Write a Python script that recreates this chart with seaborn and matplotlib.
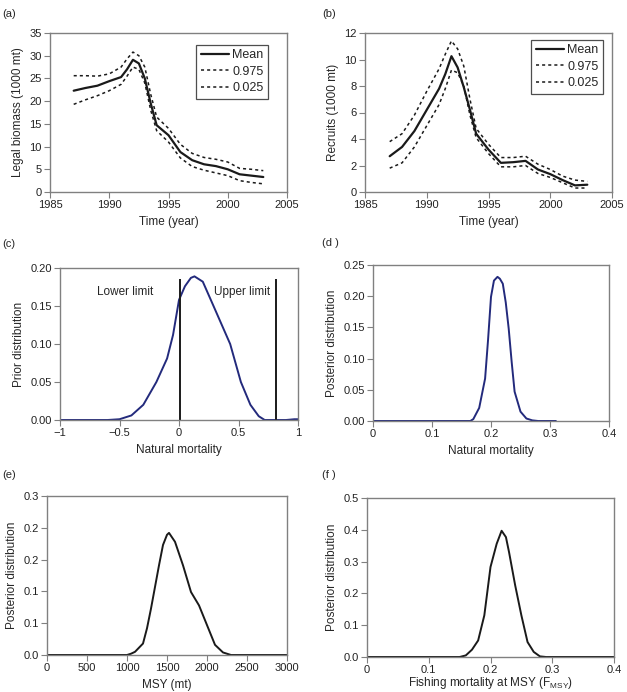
import numpy as np
import pandas as pd
import matplotlib
matplotlib.use("Agg")
import matplotlib.pyplot as plt
import seaborn as sns

# (a) legal biomass, (b) recruits
years = [1987, 1988, 1989, 1990, 1991, 1991.5, 1992, 1992.5, 1993, 1993.5, 1994, 1995,
         1996, 1997, 1998, 1999, 2000, 2001, 2002, 2003]
bio_mean = [22.3, 22.9, 23.4, 24.4, 25.3, 27.0, 29.1, 28.3, 25.0, 19.5, 14.7, 12.5,
            8.8, 7.0, 6.1, 5.7, 5.0, 3.9, 3.6, 3.3]
bio_hi = [25.6, 25.6, 25.5, 26.0, 27.5, 29.3, 30.8, 30.0, 27.5, 21.5, 16.5, 14.0,
          10.5, 8.5, 7.6, 7.2, 6.6, 5.2, 5.0, 4.7]
bio_lo = [19.3, 20.3, 21.2, 22.3, 23.7, 25.5, 27.5, 27.0, 24.0, 18.0, 13.5, 11.0,
          7.5, 5.6, 4.8, 4.2, 3.6, 2.5, 2.1, 1.8]
rec_mean = [2.7, 3.4, 4.6, 6.2, 7.8, 8.9, 10.25, 9.4, 7.9, 6.2, 4.4, 3.2,
            2.2, 2.25, 2.35, 1.7, 1.35, 0.9, 0.5, 0.55]
rec_hi = [3.8, 4.4, 5.8, 7.6, 9.3, 10.4, 11.4, 10.8, 9.5, 7.0, 4.8, 3.6,
          2.6, 2.6, 2.7, 2.1, 1.7, 1.2, 0.9, 0.8]
rec_lo = [1.8, 2.2, 3.4, 5.0, 6.6, 7.8, 9.2, 9.0, 8.0, 5.8, 4.1, 2.9,
          1.9, 1.9, 2.0, 1.4, 1.1, 0.7, 0.3, 0.3]

# (c) prior on natural mortality
prior_x = [-1.0, -0.6, -0.5, -0.4, -0.3, -0.19, -0.1, -0.05, 0.0, 0.05, 0.1,
           0.13, 0.2, 0.29, 0.43, 0.52, 0.6, 0.67, 0.72, 0.8, 0.9, 0.97, 1.0]
prior_y = [0.0, 0.0, 0.001, 0.006, 0.02, 0.05, 0.081, 0.112, 0.158, 0.176, 0.187,
           0.189, 0.182, 0.15, 0.10, 0.05, 0.02, 0.005, 0.0, 0.0, 0.0, 0.001, 0.001]
limits = [0.01, 0.815]

# (d) posterior natural mortality
post_m_x = [0.0, 0.1, 0.165, 0.17, 0.18, 0.19, 0.195, 0.2, 0.205, 0.211, 0.215,
            0.22, 0.225, 0.23, 0.235, 0.24, 0.25, 0.26, 0.27, 0.28, 0.31]
post_m_y = [0.0, 0.0, 0.0, 0.003, 0.021, 0.068, 0.13, 0.199, 0.225, 0.231, 0.228,
            0.22, 0.19, 0.148, 0.095, 0.047, 0.015, 0.004, 0.001, 0.0, 0.0]

# (e) posterior MSY
msy_x = [0, 500, 1000, 1050, 1100, 1200, 1250, 1300, 1400, 1450, 1500, 1525,
         1600, 1700, 1800, 1900, 2000, 2100, 2200, 2300, 2500, 3000]
msy_y = [0.0, 0.0, 0.0, 0.002, 0.005, 0.018, 0.042, 0.073, 0.141, 0.173, 0.189,
         0.192, 0.178, 0.141, 0.099, 0.078, 0.047, 0.016, 0.004, 0.0, 0.0, 0.0]
msy_ticklabels = ["0.0", "0.1", "0.1", "0.2", "0.2", "0.3"]

# (f) posterior F_MSY
fmsy_x = [0.0, 0.1, 0.15, 0.16, 0.17, 0.18, 0.19, 0.2, 0.21, 0.218, 0.225, 0.23,
          0.24, 0.25, 0.26, 0.27, 0.28, 0.29, 0.35, 0.4]
fmsy_y = [0.0, 0.0, 0.0, 0.005, 0.023, 0.052, 0.131, 0.283, 0.356, 0.397, 0.377,
          0.33, 0.225, 0.131, 0.047, 0.016, 0.002, 0.0, 0.0, 0.0]

sns.set_theme(style="ticks")
plt.rcParams["font.family"] = ["Liberation Sans", "DejaVu Sans"]
plt.rcParams["font.size"] = 8
plt.rcParams["mathtext.fontset"] = "custom"
plt.rcParams["mathtext.rm"] = "Liberation Sans"
plt.rcParams["mathtext.it"] = "Liberation Sans"

W, H = 627, 692
fig = plt.figure(figsize=(W / 100, H / 100), dpi=100)
fig.patch.set_facecolor("white")


def make_ax(l, r, t, b):
    ax = fig.add_axes([l / W, 1 - b / H, (r - l) / W, (b - t) / H])
    for s in ax.spines.values():
        s.set_color("#808080")
        s.set_linewidth(1.0)
    ax.tick_params(direction="out", length=4, width=0.8, color="#808080",
                   labelsize=8, labelcolor="#222222", pad=2)
    return ax


def tag(x, y, txt):
    fig.text(x / W, 1 - y / H, txt, fontsize=8, va="center", ha="left")


def box_legend(ax, anchor):
    leg = ax.legend(loc="upper right", bbox_to_anchor=anchor, fontsize=9,
                    frameon=True, fancybox=False, handlelength=2.3,
                    handletextpad=0.25, borderpad=0.35, labelspacing=0.35,
                    borderaxespad=0)
    leg.get_frame().set_edgecolor("#222222")
    leg.get_frame().set_linewidth(0.9)


navy = "#232a7c"
dot = (0, (2, 2))
lab = 8.5

# (a)
ax = make_ax(50, 287, 33, 192)
sns.lineplot(x=years, y=bio_mean, color="k", lw=1.6, label="Mean", ax=ax)
sns.lineplot(x=years, y=bio_hi, color="k", lw=1.1, linestyle=dot, label="0.975", ax=ax)
sns.lineplot(x=years, y=bio_lo, color="k", lw=1.1, linestyle=dot, label="0.025", ax=ax)
ax.set_xlim(1985, 2005)
ax.set_ylim(0, 35)
ax.set_xticks(range(1985, 2006, 5))
ax.set_yticks(range(0, 36, 5))
ax.set_xlabel("Time (year)", fontsize=lab)
ax.set_ylabel("Legal biomass (1000 mt)", fontsize=lab)
box_legend(ax, ((268 - 50) / 237, 1 - (45 - 33) / 159))
tag(2, 14, "(a)")

# (b)
ax = make_ax(365, 612, 33, 192)
sns.lineplot(x=years, y=rec_mean, color="k", lw=1.6, label="Mean", ax=ax)
sns.lineplot(x=years, y=rec_hi, color="k", lw=1.1, linestyle=dot, label="0.975", ax=ax)
sns.lineplot(x=years, y=rec_lo, color="k", lw=1.1, linestyle=dot, label="0.025", ax=ax)
ax.set_xlim(1985, 2005)
ax.set_ylim(0, 12)
ax.set_xticks(range(1985, 2006, 5))
ax.set_yticks(range(0, 13, 2))
ax.set_xlabel("Time (year)", fontsize=lab)
ax.set_ylabel("Recruits (1000 mt)", fontsize=lab)
box_legend(ax, ((603 - 365) / 247, 1 - (40 - 33) / 159))
tag(322, 14, "(b)")

# (c)
ax = make_ax(60, 298, 268, 420)
sns.lineplot(x=prior_x, y=prior_y, color=navy, lw=1.4, ax=ax)
ax.vlines(limits, 0, 0.185, color="k", lw=1.4)
ax.text(-0.45, 0.169, "Lower limit", ha="center", va="center", fontsize=8.5)
ax.text(0.53, 0.169, "Upper limit", ha="center", va="center", fontsize=8.5)
ax.set_xlim(-1, 1)
ax.set_ylim(0, 0.2)
ax.set_xticks([-1, -0.5, 0, 0.5, 1])
ax.set_xticklabels(["\u22121", "\u22120.5", "0", "0.5", "1"])
ax.set_yticks([0, 0.05, 0.10, 0.15, 0.20])
ax.set_yticklabels(["0.00", "0.05", "0.10", "0.15", "0.20"])
ax.set_xlabel("Natural mortality", fontsize=lab)
ax.set_ylabel("Prior distribution", fontsize=lab)
tag(2, 244, "(c)")

# (d)
ax = make_ax(373, 609, 265, 421)
sns.lineplot(x=post_m_x, y=post_m_y, color=navy, lw=1.4, ax=ax)
ax.set_xlim(0, 0.4)
ax.set_ylim(0, 0.25)
ax.set_xticks([0, 0.1, 0.2, 0.3, 0.4])
ax.set_xticklabels(["0", "0.1", "0.2", "0.3", "0.4"])
ax.set_yticks([0, 0.05, 0.10, 0.15, 0.20, 0.25])
ax.set_yticklabels(["0.00", "0.05", "0.10", "0.15", "0.20", "0.25"])
ax.set_xlabel("Natural mortality", fontsize=lab)
ax.set_ylabel("Posterior distribution", fontsize=lab)
tag(322, 243, "(d )")

# (e)
ax = make_ax(47, 287, 496, 655)
sns.lineplot(x=msy_x, y=msy_y, color="k", lw=1.4, ax=ax)
ax.set_xlim(0, 3000)
ax.set_ylim(0, 0.25)
ax.set_xticks(range(0, 3001, 500))
ax.set_yticks([0, 0.05, 0.10, 0.15, 0.20, 0.25])
ax.set_yticklabels(msy_ticklabels)
ax.set_xlabel("MSY (mt)", fontsize=lab)
ax.set_ylabel("Posterior distribution", fontsize=lab)
tag(2, 475, "(e)")

# (f)
ax = make_ax(367, 614, 498, 657)
sns.lineplot(x=fmsy_x, y=fmsy_y, color="k", lw=1.4, ax=ax)
ax.set_xlim(0, 0.4)
ax.set_ylim(0, 0.5)
ax.set_xticks([0, 0.1, 0.2, 0.3, 0.4])
ax.set_xticklabels(["0", "0.1", "0.2", "0.3", "0.4"])
ax.set_yticks([0, 0.1, 0.2, 0.3, 0.4, 0.5])
ax.set_yticklabels(["0.0", "0.1", "0.2", "0.3", "0.4", "0.5"])
ax.set_xlabel("Fishing mortality at MSY (F$_{\\mathrm{MSY}}$)", fontsize=lab, labelpad=0)
ax.set_ylabel("Posterior distribution", fontsize=lab)
tag(322, 475, "(f )")

fig.savefig("out.png", dpi=100)
